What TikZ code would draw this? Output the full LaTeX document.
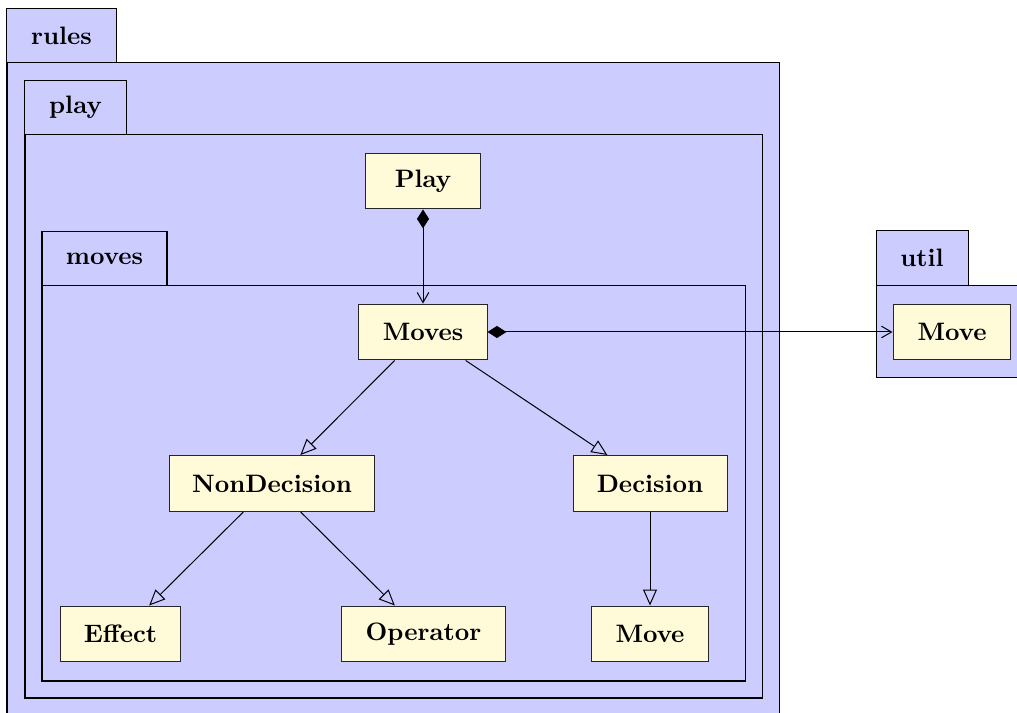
\documentclass[tikz,border=0pt]{standalone}
\usetikzlibrary{arrows.meta}
\definecolor{pkgfill}{RGB}{204,204,255}
\definecolor{clsfill}{RGB}{255,250,216}
\begin{document}
\begin{tikzpicture}[x=0.3968pt,y=-0.3968pt,
  pkgbody/.style={draw=black,fill=pkgfill,line width=0.4pt},
  pkgtab/.style={draw=black,fill=pkgfill,line width=0.4pt,font=\bfseries,inner sep=0pt,minimum height=21.8pt},
  cls/.style={draw=black!85,fill=clsfill,line width=0.4pt,font=\bfseries,inner sep=0pt,minimum height=22.2pt},
  inherit/.style={-{Triangle[open,length=6.3pt,width=5.5pt]},line width=0.4pt},
  compose/.style={{Diamond[length=7.5pt,width=4.8pt]}-{Straight Barb[length=4pt,width=4.6pt]},line width=0.4pt}]
\useasboundingbox (0,0) rectangle (1017,713);
% rules package
\draw[pkgbody] (7,63) rectangle (779,716);
\node[pkgtab,minimum width=43.3pt] (rulestab) at (61.5,35.5) {rules};
% play package
\draw[pkgbody] (25,135) rectangle (762,698);
\node[pkgtab,minimum width=40.1pt] (playtab) at (75.5,107.5) {play};
% moves package
\draw[pkgbody] (42,286) rectangle (745,681);
\node[pkgtab,minimum width=49.6pt] (movestab) at (104.5,258.5) {moves};
% util package
\draw[pkgbody] (876,286) rectangle (1019,378);
\node[pkgtab,minimum width=36.5pt,minimum height=22.2pt] (utiltab) at (922,258) {util};
% classes
\node[cls,minimum width=45.6pt] (play) at (423,181) {Play};
\node[cls,minimum width=50.8pt] (moves) at (423,332) {Moves};
\node[cls,minimum width=46.8pt] (umove) at (952,332) {Move};
\node[cls,minimum width=81.7pt] (nondec) at (272,483.5) {NonDecision};
\node[cls,minimum width=61.1pt] (dec) at (650,483.5) {Decision};
\node[cls,minimum width=48pt] (effect) at (120.5,634) {Effect};
\node[cls,minimum width=64.7pt] (operator) at (423.5,634) {Operator};
\node[cls,minimum width=46.4pt] (move) at (650,634) {Move};
% connectors
\draw[compose] (play) -- (moves);
\draw[compose] (moves) -- (umove);
\draw[inherit] (moves) -- (nondec);
\draw[inherit] (moves) -- (dec);
\draw[inherit] (nondec) -- (effect);
\draw[inherit] (nondec) -- (operator);
\draw[inherit] (dec) -- (move);
\end{tikzpicture}
\end{document}
